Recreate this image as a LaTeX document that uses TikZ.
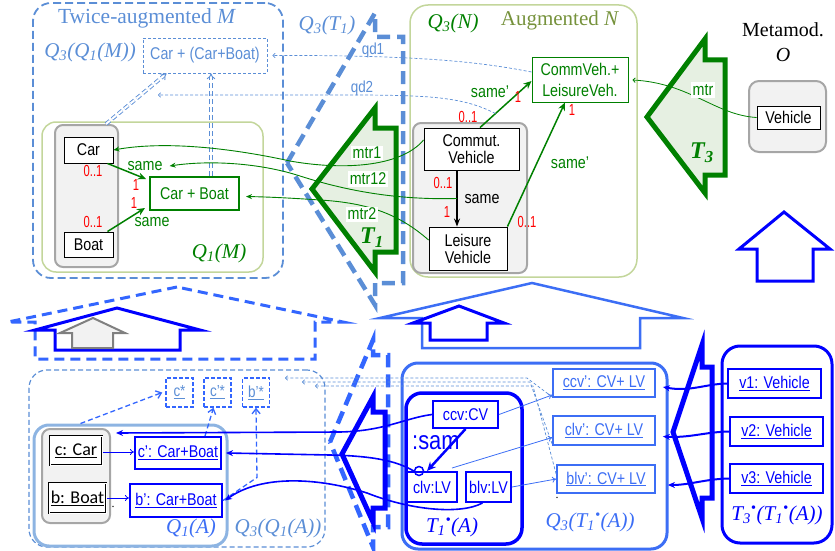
\documentclass[tikz,border=0pt]{standalone}
\usepackage{fontspec}
\setmainfont{Liberation Serif}
\setsansfont{Liberation Sans}[FakeStretch=0.84]
\newfontfamily\calib{Carlito}
\newfontfamily\multfont{Liberation Sans}[FakeStretch=0.7]
\usetikzlibrary{arrows.meta}
\definecolor{lblue}{RGB}{91,142,214}
\definecolor{mblue}{RGB}{51,102,255}
\definecolor{qblue}{RGB}{60,110,245}
\definecolor{pblue}{RGB}{0,0,255}
\definecolor{gre}{RGB}{0,128,0}
\definecolor{lgreen}{RGB}{195,214,155}
\definecolor{tfill}{RGB}{230,240,226}
\definecolor{olivet}{RGB}{118,146,60}
\definecolor{qonea}{RGB}{141,180,226}
\definecolor{gbox}{RGB}{242,242,242}
\definecolor{gline}{RGB}{166,166,166}
\definecolor{garrow}{RGB}{128,128,128}
\newcommand\fsz[2]{\fontsize{#1}{#2}\selectfont}
\begin{document}
\begin{tikzpicture}[x=1pt,y=-1pt,
  ent/.style={draw=black, line width=0.9pt, fill=white, inner sep=0pt, font=\sffamily\fsz{17}{17}, align=center},
  gent/.style={ent, draw=gre, text=gre},
  bent/.style={ent, draw=pblue, text=pblue, line width=2pt},
  qent/.style={ent, draw=qblue, text=qblue, line width=1.8pt},
  ient/.style={draw=black, line width=1pt, double, double distance=0.8pt, fill=white, inner sep=0pt, font=\calib\fsz{18}{18}},
  sent/.style={draw=mblue, line width=1.5pt, dash pattern=on 4pt off 2pt, text=lblue, inner sep=0pt, minimum width=27pt, minimum height=29pt, font=\sffamily\fsz{16}{16}},
  slab/.style={font=\sffamily\fsz{17}{17}, inner sep=0pt},
  mult/.style={text=red, font=\multfont\fsz{16}{16}, inner sep=0pt},
  ital/.style={font=\fsz{21}{21}\itshape, inner sep=0pt},
  cont/.style={inner sep=0pt},
  gbx/.style={draw=gline, fill=gbox, line width=2pt, rounded corners=8pt, inner sep=0pt},
  garr/.style={draw=gre, line width=1.5pt, -{Stealth[length=8pt,width=7pt]}},
  gthin/.style={draw=gre, line width=0.9pt, -{Stealth[length=6pt,width=5pt]}},
  dbl/.style={draw=lblue, line width=0.9pt, double=white, double distance=2pt, dash pattern=on 5pt off 3pt, -{Implies}},
  ldsh/.style={draw=lblue, line width=0.7pt, dash pattern=on 3pt off 2pt, -{To[length=3pt,width=5pt]}},
  dstyle/.style={draw=mblue, line width=1.3pt, dash pattern=on 5pt off 3pt, -{Straight Barb[length=5pt,width=8pt]}},
  thinb/.style={draw=qblue, line width=0.8pt, -{To[length=4pt,width=6pt]}},
  barr/.style={draw=pblue, line width=2pt, -{Stealth[length=7pt,width=6pt]}},
  bcurve/.style={draw=pblue, line width=1.6pt, -{Stealth[length=7pt,width=6pt]}},
]
\useasboundingbox (0,0) rectangle (835,551);

% ===== top left: twice augmented M
\node[cont, draw=lblue, line width=1.8pt, dash pattern=on 8pt off 4pt, rounded corners=18pt, minimum width=250pt, minimum height=275pt] (outM) at (158,140.5) {};
\node[font=\fsz{21.5}{21.5}, text=lblue, inner sep=0pt] (tM) at (147,18) {Twice-augmented \textit{M}};
\node[ital, text=lblue] (q3q1m) at (90,52) {Q\textsubscript{3}(Q\textsubscript{1}(M))};
\node[cont, draw=lblue, dash pattern=on 3pt off 2pt, line width=0.8pt, minimum width=124pt, minimum height=35pt, text=lblue, font=\sffamily\fsz{17}{17}] (ccb) at (205,55.5) {Car + (Car+Boat)};
\node[cont, draw=lgreen, line width=1.5pt, rounded corners=14pt, minimum width=221pt, minimum height=150pt] (q1m) at (152.5,197) {};
\node[gbx, minimum width=63pt, minimum height=142pt] (gM) at (86.5,196) {};
\node[ent, minimum width=49pt, minimum height=26pt] (car) at (88.5,150) {Car};
\node[ent, minimum width=49pt, minimum height=25pt] (boat) at (88.5,244.5) {Boat};
\node[gent, line width=2pt, minimum width=89pt, minimum height=33pt] (cb) at (194.5,193.5) {Car + Boat};
\node[ital, text=gre] (q1mL) at (219,253) {Q\textsubscript{1}(M)};

\draw[garr] ([xshift=-6pt]car.south east) -- ([xshift=-3pt,yshift=-3pt]cb.north west);
\draw[garr] ([xshift=-6pt]boat.north east) -- ([xshift=-4pt,yshift=3pt]cb.south west);
\node[mult] (m1) at (93,171) {0..1};
\node[slab, text=gre] (s1) at (145,166) {same};
\node[mult] (m2) at (136,185) {1};
\node[mult] (m3) at (93,222) {0..1};
\node[mult] (m4) at (134,203) {1};
\node[slab, text=gre] (s2) at (152,222) {same};

\draw[dbl] ([xshift=-13pt]gM.north east) -- ([xshift=24pt]ccb.south west);
\draw[dbl] ([xshift=16.5pt]cb.north) -- ([xshift=6pt]ccb.south);

% ===== Q3(T1) dashed arrow
\node[ital, text=lblue] (q3t1L) at (327,25) {Q\textsubscript{3}(T\textsubscript{1})};
\draw[lblue, line width=4.5pt, dash pattern=on 13pt off 7pt] (287,163) -- (375,13) -- (375,37) -- (403,37) -- (403,283) -- (375,283) -- (375,305) -- cycle;

% ===== Q3(N)
\node[cont, draw=lgreen, line width=1.5pt, rounded corners=18pt, minimum width=227pt, minimum height=272pt] (q3n) at (523.5,141) {};
\node[ital, text=gre] (q3nL) at (453,23) {Q\textsubscript{3}(N)};
\node[font=\fsz{21}{21}, text=olivet, inner sep=0pt] (augN) at (560,20) {Augmented \textit{N}};
\node[gent, line width=1pt, minimum width=96pt, minimum height=44pt, font=\sffamily\fsz{17}{21}] (cl) at (580,80) {CommVeh.+\\LeisureVeh.};
\node[gbx, minimum width=114pt, minimum height=150pt] (gN) at (470,198) {};
\node[ent, minimum width=95pt, minimum height=42pt] (commut) at (471.5,149) {Commut.\\Vehicle};
\node[ent, minimum width=78pt, minimum height=43pt] (leisure) at (468,248.5) {Leisure\\Vehicle};

\draw[black, line width=1.5pt, -{Stealth[length=8pt,width=6pt]}] ([xshift=-14.5pt]commut.south) -- coordinate[pos=0.5] (samemid) ([xshift=-11pt]leisure.north);
\node[mult] (m5) at (443,183) {0..1};
\node[mult] (m6) at (447,212) {1};
\node[slab] (s3) at (482,199) {same};
\draw[garr] ([xshift=8.5pt]commut.north) -- coordinate[pos=0.3] (spmid) ([yshift=-1pt]cl.west);
\node[slab, text=gre] (s4) at (490,92) {same'};
\node[mult] (m7) at (468,117) {0..1};
\node[mult] (m8) at (518,97) {1};
\draw[garr] (leisure.north east) -- ([xshift=-15pt]cl.south);
\node[mult] (m9) at (527,222) {0..1};
\node[mult] (m10) at (572,110) {1};
\node[slab, text=gre] (s5) at (570,163) {same'};

% qd traces
\coordinate (qd2end) at (158,95);
\draw[ldsh] ([yshift=8pt]cl.west) .. controls (480,62) and (420,55) .. ([xshift=5pt]ccb.east);
\draw[ldsh] (spmid) .. controls (460,95) and (420,95) .. (330,95) -- (qd2end);
\node[slab, text=lblue, font=\sffamily\fsz{16}{16}] (qd1) at (373,50) {qd1};
\node[slab, text=lblue, font=\sffamily\fsz{16}{16}] (qd2) at (362,88) {qd2};

% ===== T1 green arrow
\draw[gre, fill=tfill, line width=5pt] (312,189) -- (375,108) -- (375,128) -- (396,128) -- (396,252) -- (375,252) -- (375,272) -- cycle;
\draw[gthin] ([yshift=9pt]commut.west) .. controls (400,168) and (340,170) .. (290,161) .. controls (240,150) and (170,140) .. (car.east);
\draw[gthin] (samemid) .. controls (400,200) and (350,192) .. (300,176) .. controls (260,163) and (210,160) .. ([xshift=7pt]s1.east);
\draw[gthin] ([yshift=8.5pt]leisure.west) .. controls (400,215) and (370,203) .. (320,200) .. controls (290,198) and (270,197) .. ([xshift=6pt,yshift=-3pt]cb.east);
\node[slab, fill=white, text=gre, inner sep=1.5pt] (mtr1) at (367,153) {mtr1};
\node[slab, fill=white, text=gre, inner sep=1.5pt] (mtr12) at (368,179) {mtr12};
\node[slab, fill=white, text=gre, inner sep=1.5pt] (mtr2) at (362,214) {mtr2};
\node[font=\fsz{24}{24}\bfseries\itshape, text=gre, inner sep=0pt] (T1) at (372,238) {T\textsubscript{1}};

% ===== T3 and O
\node[font=\fsz{20}{25}, align=center, inner sep=0pt] (meta) at (783,42) {Metamod.\\\textit{O}};
\node[gbx, rounded corners=10pt, minimum width=77pt, minimum height=71pt] (oBox) at (787.5,116.5) {};
\node[ent, minimum width=63pt, minimum height=23pt] (vehicle) at (788.5,117.5) {Vehicle};
\draw[gre, fill=tfill, line width=5pt] (647,117) -- (705,39) -- (705,60) -- (725,60) -- (725,175) -- (705,175) -- (705,193) -- cycle;
\draw[draw=gre, line width=0.8pt, -{To[length=3pt,width=5pt]}] (vehicle.west) .. controls (715,115) and (690,83) .. ([xshift=4pt]cl.east);
\node[slab, fill=white, text=gre, inner sep=2pt] (mtr) at (703,90) {mtr};
\node[font=\fsz{24}{24}\bfseries\itshape, text=gre, inner sep=0pt] (T3) at (702,153) {T\textsubscript{3}};
\draw[pblue, line width=3pt] (784,212) -- (739,249) -- (757,249) -- (757,281) -- (813,281) -- (813,249) -- (830,249) -- cycle;

% ===== middle band
\draw[mblue, line width=3pt, dash pattern=on 10pt off 6pt] (177,287) -- (8,322) -- (35,322) -- (35,359) -- (315,359) -- (315,322) -- (343,322) -- cycle;
\draw[pblue, line width=3pt] (117,308) -- (35,330) -- (55,330) -- (55,350) -- (180,350) -- (180,330) -- (200,330) -- cycle;
\draw[garrow, fill=gbox, line width=2pt] (93,318) -- (60,333) -- (72,333) -- (72,348) -- (113,348) -- (113,333) -- (125,333) -- cycle;
\draw[qblue, line width=2.5pt] (532,283) -- (380,318) -- (422,318) -- (422,348) -- (640,348) -- (640,318) -- (683,318) -- cycle;
\draw[pblue, line width=3pt] (459,306) -- (413,323) -- (430,323) -- (430,340) -- (487,340) -- (487,323) -- (504,323) -- cycle;

% ===== bottom left
\node[cont, draw=lblue, line width=1.2pt, dash pattern=on 5pt off 3pt, rounded corners=18pt, minimum width=296pt, minimum height=177pt] (q3q1a) at (177,458.5) {};
\node[cont, draw=qonea, line width=3pt, rounded corners=15pt, minimum width=193pt, minimum height=121pt] (q1a) at (130.5,485.5) {};
\node[gbx, minimum width=68pt, minimum height=94pt] (gA) at (76,476) {};
\node[ient, minimum width=52pt, minimum height=29pt] (cCar) at (76,450.5) {\underline{c: Car}};
\node[ient, minimum width=57pt, minimum height=30pt] (bBoat) at (77.5,498) {\underline{b: Boat}};
\node[bent, minimum width=86pt, minimum height=32pt] (cp) at (178,453) {\underline{c': Car+Boat}};
\node[bent, minimum width=92pt, minimum height=33pt] (bp) at (176,500.5) {\underline{b': Car+Boat}};
\node[inner sep=0pt, font=\fsz{12}{12}] (dot1) at (113,507) {.};
\node[sent] (cs) at (179.5,392.5) {\underline{c*}};
\node[sent] (cps) at (217.5,392.5) {\underline{c'*}};
\node[sent] (bps) at (256,392.5) {\underline{b'*}};
\node[ital, text=qblue] (q1aL) at (191,528) {Q\textsubscript{1}(A)};
\node[ital, text=lblue] (q3q1aL) at (278,528) {Q\textsubscript{3}(Q\textsubscript{1}(A))};

\draw[pblue, line width=0.8pt, -{To[length=4pt,width=6pt]}] ([yshift=-1.5pt]cCar.east) -- ([yshift=-1.5pt]cCar.east -| cp.west);
\draw[pblue, line width=0.8pt, -{To[length=4pt,width=6pt]}] (bBoat.east) -- (bBoat.east -| bp.west);
\draw[dstyle] ([xshift=48pt]q1a.north west) -- ([xshift=-3pt]cs.west);
\draw[dstyle] ([xshift=27pt]cp.north) -- ([xshift=-4pt]cps.south);
\draw[dstyle] (bp.east) -- ++(34,-23) -- (bps.south);

% ===== T1 bullet arrows
\draw[mblue, line width=4.5pt, dash pattern=on 13pt off 7pt] (330,442) -- (373,340) -- (373,355) -- (388,355) -- (388,527) -- (373,527) -- (373,547) -- cycle;
\draw[pblue, line width=5pt] (342,454) -- (373,397) -- (373,412) -- (385,412) -- (385,508) -- (373,508) -- (373,522) -- cycle;

% ===== bottom middle
\node[cont, draw=qblue, line width=3pt, rounded corners=16pt, minimum width=265pt, minimum height=186pt] (q3t1a) at (534.5,456) {};
\node[cont, draw=pblue, line width=3.5pt, rounded corners=16pt, minimum width=116pt, minimum height=151pt] (t1a) at (464,468.5) {};
\node[bent, minimum width=65pt, minimum height=27pt] (ccv) at (465.5,414.5) {ccv:CV};
\node[bent, minimum width=50pt, minimum height=30pt] (clv) at (432,487) {clv:LV};
\node[bent, minimum width=45pt, minimum height=30pt] (blv) at (488.5,487) {blv:LV};
\node[font=\sffamily\fsz{26}{26}, text=pblue, anchor=west, inner sep=0pt] (sam) at (412,443) {:sam};
\draw[pblue, line width=2.5pt, -{Stealth[length=9pt,width=8pt]}] (ccv.south) -- ([xshift=-5pt]clv.north);
\node[draw=pblue, circle, line width=1.5pt, minimum size=9pt, inner sep=0pt] (circ) at (419,471) {};
\node[ital, text=pblue] (t1aL) at (452,527) {T\textsubscript{1}\textsuperscript{\textbullet}(A)};
\node[ital, text=qblue] (q3t1aL) at (590,522) {Q\textsubscript{3}(T\textsubscript{1}\textsuperscript{\textbullet}(A))};
\node[qent, minimum width=102pt, minimum height=28pt] (ccvp) at (604,383) {\underline{ccv': CV+ LV}};
\node[qent, minimum width=102pt, minimum height=29pt] (clvp) at (604,430.5) {\underline{clv': CV+ LV}};
\node[qent, minimum width=98pt, minimum height=28pt] (blvp) at (606,479) {\underline{blv': CV+ LV}};
\node[inner sep=0pt, font=\fsz{12}{12}] (dot2) at (557,498) {.};
\draw[thinb] (ccv.east) -- ([yshift=-12pt]ccvp.west);
\draw[thinb] ([xshift=-6pt,yshift=3pt]clv.north east) -- ([yshift=-7pt]clvp.west);
\draw[thinb] (blv.east) -- (blvp.west);

% traces to starred elements
\coordinate (t1) at (285,378);
\coordinate (t2) at (302,382);
\coordinate (t3) at (315,386);
\draw[ldsh] ([yshift=1pt]ccvp.south west) -- (527,378) -- (t1);
\draw[ldsh] ([yshift=2pt]clvp.south west) -- (530,382) -- (t2);
\draw[ldsh] ([yshift=5pt]blvp.west) -- (533,386) -- (t3);

% blue curves from T1 bullet(A) to Q1(A)
\draw[bcurve] (ccv.west) .. controls (405,418) and (385,431) .. (340,432) -- ([shift={(5,5)}]gA.north east);
\draw[bcurve] (circ.west) .. controls (400,463) and (380,456) .. (330,455) -- ([xshift=4pt]cp.east);
\draw[bcurve] ([xshift=-6pt]blv.south) .. controls (460,515) and (410,510) .. (367,493) .. controls (320,478) and (262,474) .. ([xshift=2pt]bp.east);

% ===== bottom right
\draw[pblue, line width=5pt] (673,432) -- (702,345) -- (702,367) -- (712,367) -- (712,498) -- (702,498) -- (702,518) -- cycle;
\node[cont, draw=pblue, line width=3pt, rounded corners=18pt, minimum width=110pt, minimum height=197pt] (t3t1a) at (777,444.5) {};
\node[bent, minimum width=93pt, minimum height=29pt] (v1) at (774.5,383.5) {\underline{v1: Vehicle}};
\node[bent, minimum width=93pt, minimum height=29pt] (v2) at (776.5,431.5) {\underline{v2: Vehicle}};
\node[bent, minimum width=93pt, minimum height=29pt] (v3) at (776.5,478.5) {\underline{v3: Vehicle}};
\node[ital, text=pblue] (t3L) at (777,515) {T\textsubscript{3}\textsuperscript{\textbullet}(T\textsubscript{1}\textsuperscript{\textbullet}(A))};
\draw[barr] (v1.west) .. controls (705,384) and (690,392) .. ([xshift=7pt,yshift=-4pt]ccvp.east);
\draw[barr] (v2.west) .. controls (705,432) and (690,438) .. ([xshift=7pt,yshift=-6pt]clvp.east);
\draw[barr] (v3.west) .. controls (705,479) and (690,485) .. ([xshift=12pt,yshift=-6pt]blvp.east);
\end{tikzpicture}
\end{document}
